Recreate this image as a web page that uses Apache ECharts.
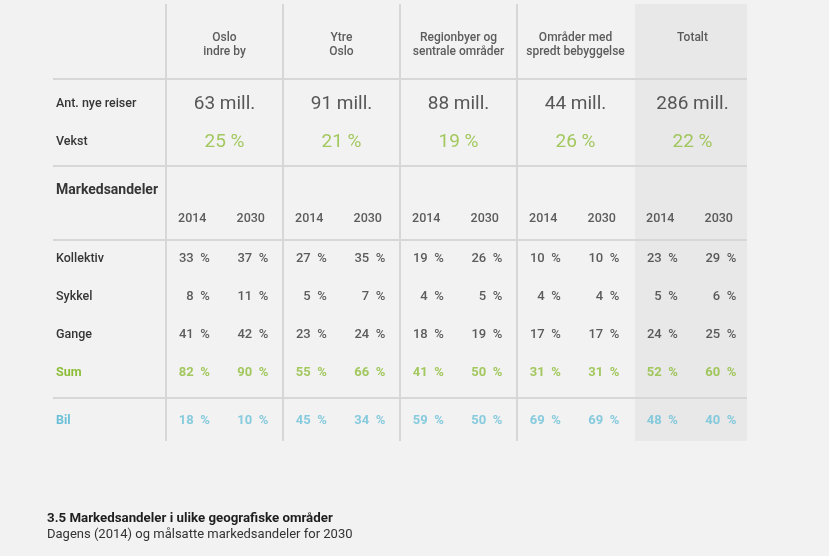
<!DOCTYPE html>
<html><head><meta charset="utf-8">
<script src="https://cdn.jsdelivr.net/npm/echarts@6.0.0/dist/echarts.min.js"></script>
<style>html,body{margin:0;padding:0;background:#f2f2f2}#c{width:829px;height:556px}</style>
</head><body><div id="c"></div>
<script>
// ---- data ----
const regions = ['Oslo\nindre by', 'Ytre\nOslo', 'Regionbyer og\nsentrale områder', 'Områder med\nspredt bebyggelse', 'Totalt'];
const newTripsMill = [63, 91, 88, 44, 286];
const growthPct = [25, 21, 19, 26, 22];
const years = ['2014', '2030'];
const modes = ['Kollektiv', 'Sykkel', 'Gange', 'Sum'];
const kollektiv2014 = [33, 27, 19, 10, 23];
const kollektiv2030 = [37, 35, 26, 10, 29];
const sykkel2014 = [8, 5, 4, 4, 5];
const sykkel2030 = [11, 7, 5, 4, 6];
const gange2014 = [41, 23, 18, 17, 24];
const gange2030 = [42, 24, 19, 17, 25];
const sum2014 = [82, 55, 41, 31, 52];
const sum2030 = [90, 66, 50, 31, 60];
const bil2014 = [18, 45, 59, 69, 48];
const bil2030 = [10, 34, 50, 69, 40];
const titleText = '3.5 Markedsandeler i ulike geografiske områder';
const subtitleText = 'Dagens (2014) og målsatte markedsandeler for 2030';

// ---- style / layout ----
const FONT = 'Roboto, "Noto Sans", sans-serif';
const DARK = '#363636', GREEN = '#8dbd38', BLUE = '#6bc0d8', LINE = '#d7d7d7', SHADE = '#e8e8e8';
const W = 500;
const L = { tableLeft: 53, colLeft: 166, colW: 117, top: 4, bottom: 441, right: 747 };
const DIVIDERS_Y = [79, 166, 240, 398];
const sections = [
  { top: 7, height: 74, rows: [' '] },
  { top: 85, height: 76, rows: ['Ant. nye reiser', 'Vekst'] },
  { top: 175.5, height: 58, rows: ['Markedsandeler', ' '] },
  { top: 240, height: 152, rows: modes },
  { top: 402, height: 38, rows: ['Bil'] }
];

const slots = [];
regions.forEach((r, i) => years.forEach(y => slots.push(i + '_' + y)));

const grid = sections.map(s => ({ left: L.colLeft, width: L.colW * regions.length, top: s.top, height: s.height, outerBoundsMode: 'none' }));
const xAxis = [];
sections.forEach((s, i) => {
  xAxis.push({ type: 'category', gridIndex: i, data: regions.map((r, k) => 'r' + k), show: false });
  xAxis.push({ type: 'category', gridIndex: i, data: slots, show: false });
});
const labelRich = {
  n: { fontFamily: FONT, fontSize: 12.5, fontWeight: W, color: DARK },
  b: { fontFamily: FONT, fontSize: 14, fontWeight: 'bold', color: DARK },
  g: { fontFamily: FONT, fontSize: 12.5, fontWeight: 'bold', color: GREEN },
  c: { fontFamily: FONT, fontSize: 12.5, fontWeight: 'bold', color: BLUE }
};
const yAxis = sections.map((s, i) => ({
  type: 'category', gridIndex: i, data: s.rows, inverse: true,
  axisLine: { show: false }, axisTick: { show: false }, splitLine: { show: false },
  axisLabel: {
    show: true, interval: 0, align: 'left', margin: L.colLeft - 56,
    formatter: v => v === 'Markedsandeler' ? '{b|' + v + '}' : v === 'Sum' ? '{g|' + v + '}' : v === 'Bil' ? '{c|' + v + '}' : '{n|' + v + '}',
    rich: labelRich
  }
}));

const pct = v => v + '  %';
const base = { type: 'scatter', symbolSize: 0, silent: true, animation: false, itemStyle: { color: 'transparent' } };
const txt = (extra) => Object.assign({ show: true, position: 'inside', formatter: '{b}', fontFamily: FONT, fontWeight: W, color: DARK, fontSize: 12 }, extra);

const series = [];
// header
series.push(Object.assign({}, base, {
  xAxisIndex: 0, yAxisIndex: 0,
  data: regions.map((r, i) => ({ name: r, value: [i, 0] })),
  label: txt({ verticalAlign: 'top', lineHeight: 14, offset: [0, -13] })
}));
// new trips
series.push(Object.assign({}, base, {
  xAxisIndex: 2, yAxisIndex: 1,
  data: newTripsMill.map((v, i) => ({ name: v + ' mill.', value: [i, 0] })),
  label: txt({ fontSize: 19, fontWeight: 'normal', color: '#2f2f2f' })
}));
// growth
series.push(Object.assign({}, base, {
  xAxisIndex: 2, yAxisIndex: 1,
  data: growthPct.map((v, i) => ({ name: v + ' %', value: [i, 1] })),
  label: txt({ fontSize: 19, fontWeight: 'normal', color: GREEN })
}));
// years
const yearData = [];
regions.forEach((r, i) => years.forEach((y, k) => yearData.push({ name: y, value: [i * 2 + k, 1] })));
series.push(Object.assign({}, base, {
  xAxisIndex: 5, yAxisIndex: 2, data: yearData, label: txt({ fontSize: 12.5, offset: [-3, 0] })
}));
// mode shares
const modeRows = [[kollektiv2014, kollektiv2030], [sykkel2014, sykkel2030], [gange2014, gange2030], [sum2014, sum2030]];
const modeData = [];
modeRows.forEach((pair, r) => pair.forEach((arr, k) => arr.forEach((v, i) => {
  const item = { name: pct(v), value: [i * 2 + k, r] };
  if (modes[r] === 'Sum') item.label = { color: GREEN, fontWeight: 'bold' };
  modeData.push(item);
})));
series.push(Object.assign({}, base, {
  xAxisIndex: 7, yAxisIndex: 3, data: modeData, label: txt({ fontSize: 13, align: 'right', offset: [14.5, 0] })
}));
// bil
const bilData = [];
[bil2014, bil2030].forEach((arr, k) => arr.forEach((v, i) => bilData.push({ name: pct(v), value: [i * 2 + k, 0] })));
series.push(Object.assign({}, base, {
  xAxisIndex: 9, yAxisIndex: 4, data: bilData,
  label: txt({ fontSize: 13, align: 'right', offset: [14.5, 0], color: BLUE, fontWeight: 'bold' })
}));

// decoration
const graphic = [];
graphic.push({ type: 'rect', z: -10, shape: { x: L.colLeft + 4 * L.colW + 1, y: L.top, width: L.right - (L.colLeft + 4 * L.colW + 1), height: L.bottom - L.top }, style: { fill: SHADE } });
for (let i = 0; i < 4; i++) {
  const x = L.colLeft + i * L.colW;
  graphic.push({ type: 'line', z: -5, shape: { x1: x, y1: L.top, x2: x, y2: L.bottom }, style: { stroke: LINE, lineWidth: 2 } });
}
DIVIDERS_Y.forEach(y => graphic.push({ type: 'line', z: -5, shape: { x1: L.tableLeft, y1: y, x2: L.right, y2: y }, style: { stroke: LINE, lineWidth: 2 } }));

const chart = echarts.init(document.getElementById('c'), null, { renderer: 'canvas' });
chart.setOption({
  backgroundColor: '#f2f2f2',
  animation: false,
  title: {
    text: titleText, subtext: subtitleText, left: 47, top: 511, padding: 0, itemGap: 1,
    textStyle: { fontFamily: FONT, fontSize: 13.3, fontWeight: 'bold', color: '#1e1e1e', lineHeight: 15 },
    subtextStyle: { fontFamily: FONT, fontSize: 13, color: '#333', lineHeight: 15 }
  },
  grid, xAxis, yAxis, series, graphic
});
</script></body></html>
